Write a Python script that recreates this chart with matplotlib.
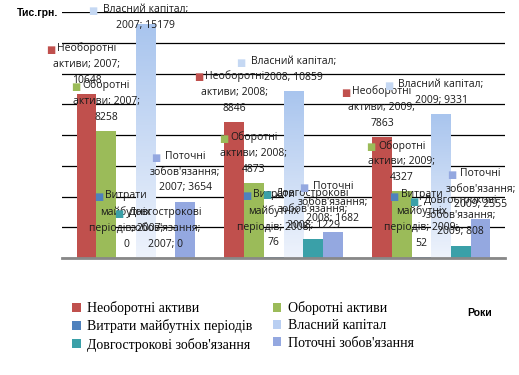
import textwrap

import matplotlib
matplotlib.use("Agg")
import matplotlib.pyplot as plt
import numpy as np
from matplotlib.patches import Patch

years = ["2007", "2008", "2009"]
series = [
    "Необоротні активи",
    "Оборотні активи",
    "Витрати майбутніх періодів",
    "Власний капітал",
    "Довгострокові зобов'язання",
    "Поточні зобов'язання",
]
neoborotni = [10648, 8846, 7863]
oborotni = [8258, 4873, 4327]
vytraty = [0, 76, 52]
vlasnyi = [15179, 10859, 9331]
dovgostrokovi = [0, 1229, 808]
potochni = [3654, 1682, 2555]

colors = ["#C0504D", "#9BBB59", "#4F81BD", "#B9CFF2", "#3AA0A8", "#94A8E0"]
wrap_width = [16, 13, 16, 16, 16, 16]

values = [neoborotni, oborotni, vytraty, vlasnyi, dovgostrokovi, potochni]

fig = plt.figure(figsize=(5.19, 3.75), dpi=100)
ax = fig.add_axes([0.1195, 0.312, 0.8536, 0.656])

x = np.arange(len(years))
n = len(series)
width = 0.8 / n

ax.set_xlim(-0.5, len(years) - 0.5)
ax.set_ylim(0, 16000)

# градієнт для "Власний капітал", як у Excel
grad = np.linspace(0, 1, 100).reshape(-1, 1)
grad_cmap = matplotlib.colors.LinearSegmentedColormap.from_list(
    "vk", ["#EEF3FC", "#A9C5EE"])

labels = []
for i, (name, vals, col) in enumerate(zip(series, values, colors)):
    pos = x - 0.4 + width * (i + 0.5)
    if i == 3:
        bars = ax.bar(pos, vals, width, color="none", zorder=2)
        for b in bars:
            x0, h = b.get_x(), b.get_height()
            ax.imshow(grad, extent=[x0, x0 + width, 0, h], origin="lower",
                      aspect="auto", cmap=grad_cmap, zorder=2)
    else:
        ax.bar(pos, vals, width, color=col, zorder=2)

    for xp, v, yr in zip(pos, vals, years):
        txt = textwrap.fill(f"{name}; {yr}; {v}", wrap_width[i])
        t = ax.annotate(txt, (xp, v), xytext=(0, 6), textcoords="offset points",
                        ha="center", va="bottom", fontsize=7.5,
                        family="Open Sans", linespacing=1.6, zorder=5,
                        color="#1a1a1a")
        labels.append((t, col if i != 3 else "#C5D8F3"))

ax.set_yticks(np.arange(0, 16001, 2000))
ax.yaxis.grid(True, color="black", linewidth=0.9, zorder=0)
ax.set_axisbelow(True)
ax.tick_params(left=False, bottom=False, labelleft=False, labelbottom=False)
for side in ["left", "right", "top"]:
    ax.spines[side].set_visible(False)
ax.spines["bottom"].set_color("#888888")
ax.spines["bottom"].set_linewidth(2)

# підписи, що вилазять за верх, опускаємо; квадратик ліворуч від першого рядка
fig.canvas.draw()
renderer = fig.canvas.get_renderer()
H = fig.bbox.height
for t, col in labels:
    bb = t.get_window_extent(renderer)
    if bb.y1 > H - 4:
        shift = (bb.y1 - (H - 4)) * 72 / fig.dpi
        t.xyann = (0, 6 - shift)
        bb = t.get_window_extent(renderer)
    lines = t.get_text().split("\n")
    line_h = bb.height / len(lines)
    longest = max(lines, key=len)
    first_w = bb.width * len(lines[0]) / len(longest)
    cx = (bb.x0 + bb.x1) / 2
    fig.text((cx - first_w / 2 - 10) / fig.bbox.width,
             (bb.y1 - line_h / 2) / H, "■", fontsize=7, color=col,
             ha="center", va="center", zorder=6)

fig.text(0.032, 0.966, "Тис.грн.", fontsize=7.5, fontweight="bold",
         family="Liberation Sans", va="center")
fig.text(0.90, 0.165, "Роки", fontsize=7.5, fontweight="bold",
         family="Liberation Sans", va="center")

# легенда: порядок по рядках, як в оригіналі
order = [0, 2, 4, 1, 3, 5]
handles = [Patch(facecolor=colors[k], label=series[k]) for k in order]
fig.legend(handles=handles, loc="upper left", bbox_to_anchor=(0.115, 0.23),
           ncol=2, frameon=False,
           prop={"family": "Liberation Serif", "size": 10},
           handlelength=0.6, handleheight=0.6, handletextpad=0.45,
           columnspacing=1.5, labelspacing=0.3)

plt.savefig("out.png", dpi=100)
